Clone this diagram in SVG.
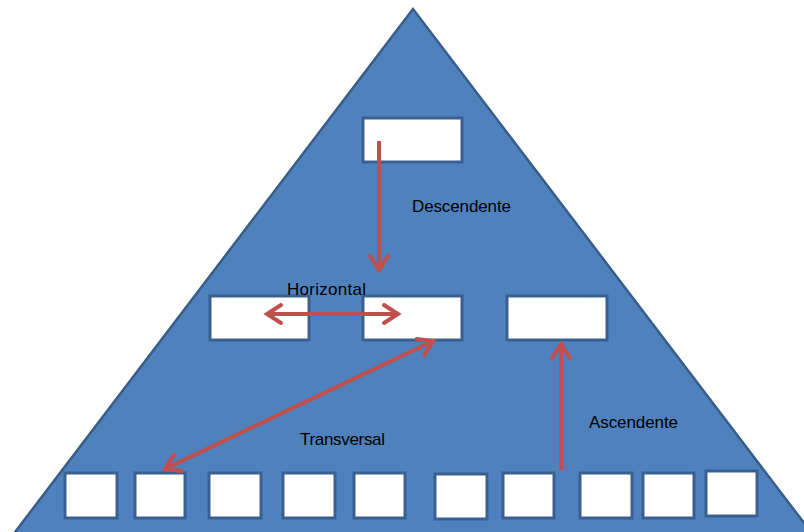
<svg xmlns="http://www.w3.org/2000/svg" width="804" height="532" viewBox="0 0 804 532">
<defs>
<style>
.box{fill:#ffffff;stroke:#3a6091;stroke-width:3}
.arr{stroke:#c0504d;stroke-width:4;fill:none}
.lbl{font-family:"Liberation Sans",Arial,sans-serif;font-size:17px;fill:#000000}
</style>
<marker id="ah" viewBox="-20 -12 24 24" refX="0" refY="0" markerWidth="24" markerHeight="24" markerUnits="userSpaceOnUse" orient="auto-start-reverse">
<path d="M-14,-9 L0,0 L-14,9" fill="none" stroke="#c0504d" stroke-width="4" stroke-linecap="round" stroke-linejoin="miter"/>
</marker>
</defs>
<rect x="0" y="0" width="804" height="532" fill="#ffffff"/>
<g id="pyramid">
<polygon points="413,9 -10,565 836,565" fill="#4f81bd" stroke="#385d8a" stroke-width="2.5"/>
</g>
<g id="n-top"><rect class="box" x="363" y="118" width="99" height="44"/></g>
<g id="n-mid-left"><rect class="box" x="210" y="296" width="99" height="44"/></g>
<g id="n-mid-center"><rect class="box" x="363" y="296" width="99" height="44"/></g>
<g id="n-mid-right"><rect class="box" x="507" y="296" width="100" height="44"/></g>
<g id="n-b1"><rect class="box" x="65" y="473" width="52" height="45"/></g>
<g id="n-b2"><rect class="box" x="135" y="473" width="50" height="45"/></g>
<g id="n-b3"><rect class="box" x="209" y="473" width="52" height="45"/></g>
<g id="n-b4"><rect class="box" x="283" y="473" width="52" height="45"/></g>
<g id="n-b5"><rect class="box" x="354" y="473" width="51" height="45"/></g>
<g id="n-b6"><rect class="box" x="435" y="474" width="52" height="45"/></g>
<g id="n-b7"><rect class="box" x="503" y="473" width="51" height="45"/></g>
<g id="n-b8"><rect class="box" x="580" y="473" width="52" height="45"/></g>
<g id="n-b9"><rect class="box" x="643" y="473" width="51" height="45"/></g>
<g id="n-b10"><rect class="box" x="706" y="471" width="51" height="45"/></g>
<g id="connectors">
<line class="arr" x1="379" y1="141" x2="379" y2="270" marker-end="url(#ah)"/>
<line class="arr" x1="267" y1="314" x2="398" y2="314" marker-start="url(#ah)" marker-end="url(#ah)"/>
<line class="arr" x1="433" y1="341" x2="165" y2="469" marker-start="url(#ah)" marker-end="url(#ah)"/>
<line class="arr" x1="561" y1="470" x2="561" y2="344" marker-end="url(#ah)"/>
</g>
<g id="labels">
<text class="lbl" x="412" y="212" textLength="99">Descendente</text>
<text class="lbl" x="287" y="295" textLength="79">Horizontal</text>
<text class="lbl" x="300" y="445" textLength="85">Transversal</text>
<text class="lbl" x="589" y="428" textLength="89">Ascendente</text>
</g>
</svg>
